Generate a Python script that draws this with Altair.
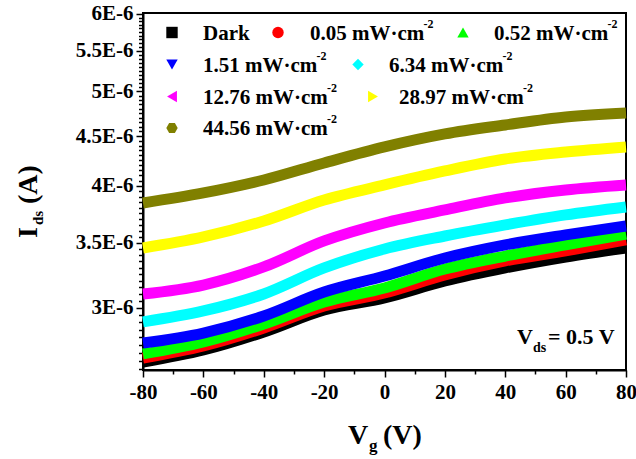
import altair as alt
import pandas as pd

# ---------------- data ----------------
VG = [-80, -60, -40, -20, 0, 20, 40, 60, 80]  # gate voltage, V
# drain current in units of 1E-6 A
I_DARK = [2.641, 2.717, 2.835, 2.986, 3.072, 3.197, 3.297, 3.383, 3.456]
I_005 = [2.666, 2.743, 2.862, 3.014, 3.108, 3.243, 3.352, 3.432, 3.522]
I_052 = [2.692, 2.769, 2.889, 3.043, 3.145, 3.289, 3.391, 3.481, 3.572]
I_151 = [2.762, 2.828, 2.944, 3.115, 3.235, 3.375, 3.481, 3.564, 3.640]
I_634 = [2.903, 2.979, 3.101, 3.297, 3.448, 3.555, 3.649, 3.736, 3.807]
I_1276 = [3.101, 3.167, 3.305, 3.514, 3.666, 3.780, 3.889, 3.963, 4.010]
I_2897 = [3.456, 3.547, 3.683, 3.870, 4.010, 4.144, 4.263, 4.334, 4.386]
I_4456 = [3.843, 3.935, 4.057, 4.223, 4.386, 4.522, 4.619, 4.707, 4.752]

SERIES = ["Dark", "0.05", "0.52", "1.51", "6.34", "12.76", "28.97", "44.56"]
VALUES = [I_DARK, I_005, I_052, I_151, I_634, I_1276, I_2897, I_4456]
COLORS = ["#000000", "#FF0000", "#00FF00", "#0000FF", "#00FFFF", "#FF00FF", "#FFFF00", "#808000"]
HEX = "M-0.5,-0.866L0.5,-0.866L1,0L0.5,0.866L-0.5,0.866L-1,0Z"
SHAPES = ["square", "circle", "triangle-up", "triangle-down", "diamond",
          "triangle-left", "triangle-right", HEX]

# tick positions: majors every 20 V / 0.5E-6 A, minors every 10 V / 0.05E-6 A
X_TICKS = list(range(-80, 81, 10))
Y_TICKS = [round(2.6 + 0.05 * k, 2) for k in range(69)]

# ---------------- layout ----------------
W, H = 483, 357
FONT = "Liberation Serif"

# legend layout (pixels, relative to plot area)
LEG_MX = [29, 135, 320, 29, 215, 29, 230, 29]
LEG_ROW = [19.5, 19.5, 19.5, 51.5, 51.5, 83.5, 83.5, 115]
LEG_TX = [60, 167, 351, 60, 246, 60, 256, 60]

CW = {"0": .5, "1": .5, "2": .5, "3": .5, "4": .5, "5": .5, "6": .5, "7": .5, "8": .5, "9": .5,
      ".": .25, " ": .25, "m": .833, "W": 1.0, "·": .25, "c": .444}

def text_width(s, size):
    return sum(CW.get(ch, .5) for ch in s) * size

X_MAJOR = "datum.value % 20 == 0"
Y_MAJOR = "abs(datum.value * 2 - round(datum.value * 2)) < 0.001"

x_enc = alt.X("Vg:Q", scale=alt.Scale(domain=[-80, 80], nice=False),
              axis=alt.Axis(values=X_TICKS, title=None,
                            labelExpr=X_MAJOR + " ? toString(datum.value) : ''",
                            tickSize={"condition": {"test": X_MAJOR, "value": 7}, "value": 4},
                            labelPadding=4, labelFlush=False, labelOverlap=False))
y_enc = alt.Y("I:Q", scale=alt.Scale(type="log", domain=[2.592, 6.014], nice=False),
              axis=alt.Axis(values=Y_TICKS, title=None,
                            labelExpr=Y_MAJOR + " ? toString(round(datum.value * 10) / 10) + 'E-6' : ''",
                            tickSize={"condition": {"test": Y_MAJOR, "value": 7}, "value": 4.5},
                            labelPadding=3, labelFlush=False, labelOverlap=False))

layers = []
for name, vals, col in zip(SERIES, VALUES, COLORS):
    df = pd.DataFrame({"Vg": VG, "I": vals})
    layers.append(
        alt.Chart(df).mark_line(strokeWidth=11, interpolate="monotone", color=col)
        .encode(x=x_enc, y=y_enc)
    )

dummy = pd.DataFrame({"a": [0]})

def txt(s, x, y, size, angle=0):
    kw = dict(font=FONT, fontWeight="bold", fontSize=size, align="left",
              baseline="alphabetic", color="black")
    if angle:
        kw["angle"] = angle
    return alt.Chart(dummy).mark_text(**kw).encode(
        x=alt.value(x), y=alt.value(y), text=alt.value(s))

# legend
for i, name in enumerate(SERIES):
    layers.append(
        alt.Chart(dummy).mark_point(filled=True, size=130, opacity=1, shape=SHAPES[i],
                                    color=COLORS[i], strokeWidth=0)
        .encode(x=alt.value(LEG_MX[i]), y=alt.value(LEG_ROW[i]))
    )
    if name == "Dark":
        layers.append(txt("Dark", LEG_TX[i], LEG_ROW[i] + 7, 21))
    else:
        main = name + " mW·cm"
        layers.append(txt(main, LEG_TX[i], LEG_ROW[i] + 7, 21))
        layers.append(txt("-2", LEG_TX[i] + text_width(main, 21) + 1, LEG_ROW[i] - 5, 12))

# annotation V_ds = 0.5 V
layers.append(txt("V", 374, 331, 22))
layers.append(txt("ds", 390, 339, 14))
layers.append(txt("= 0.5 V", 405, 331, 22))

# x title V_g (V)
layers.append(txt("V", 205, 431, 28))
layers.append(txt("g", 226, 438, 17))
layers.append(txt("(V)", 240, 431, 28))

# y title I_ds (A)
layers.append(txt("I", -106, 225, 28, angle=270))
layers.append(txt("ds", -100, 212, 15, angle=270))
layers.append(txt("(A)", -106, 191, 28, angle=270))

chart = (
    alt.layer(*layers)
    .properties(width=W, height=H, background="white",
                autosize=alt.AutoSizeParams(type="none"),
                padding={"left": 143, "top": 13, "right": 10, "bottom": 89})
    .configure_view(stroke="black", strokeWidth=2)
    .configure_axis(labelFont=FONT, labelFontWeight="bold", labelFontSize=21,
                    labelColor="black", domainColor="black", domainWidth=2,
                    tickColor="black", tickWidth=1.5, grid=False)
)

chart.save("out.html", embed_options={"renderer": "svg", "actions": False})
